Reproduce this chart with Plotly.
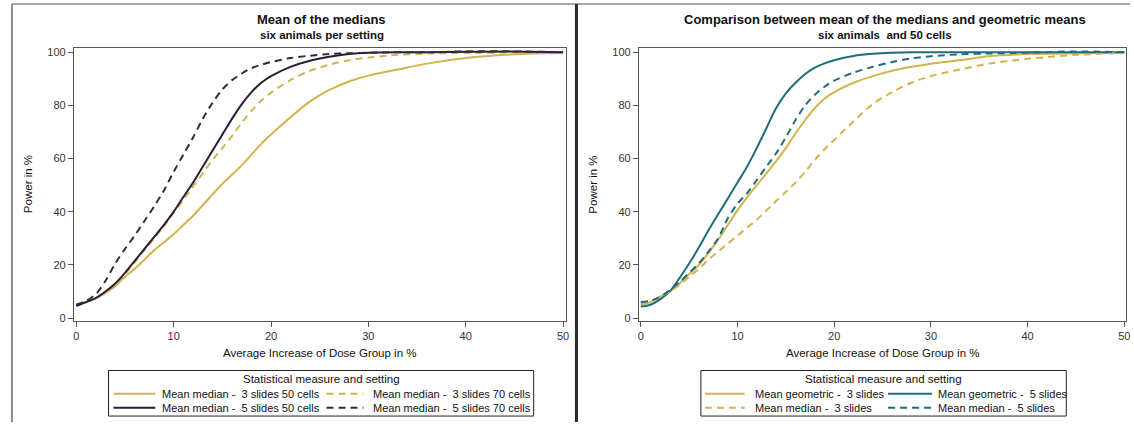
import plotly.graph_objects as go

# Increase of dose group (%) at which the power was evaluated
dose_increase = [0, 1, 2, 3, 4, 5, 6, 7, 8, 9, 10, 11, 12, 13, 14, 15, 16, 17, 18, 19, 20,
                 22, 24, 26, 28, 30, 33, 36, 40, 45, 50]

# Left panel: mean of the medians, six animals per setting (power in %)
med_3s_50c = [5, 6, 7.5, 9.5, 12, 15.5, 18.5, 22, 25.5, 28.5, 31.5, 35, 38.5, 42.5, 46.5, 50.5,
              54, 57.5, 61.5, 65.5, 69, 75.5, 81.5, 85.8, 89, 91.2, 93.5, 95.7, 97.8, 99.2, 99.8]
med_3s_70c = [5, 6, 7.5, 9.5, 12.5, 16.5, 21, 25.5, 30, 34.5, 39.5, 44.5, 49.5, 54.5, 59.5, 64,
              68.5, 73.5, 78, 81.8, 84.8, 89.5, 93, 95.3, 97, 98, 99, 99.5, 99.7, 99.9, 100]
med_5s_50c = [4.5, 6, 7.5, 10, 13, 17, 21.5, 26, 30.5, 35, 40, 45.5, 51, 57, 63, 69, 75, 80.5,
              85, 88.5, 91, 94.5, 96.8, 98.3, 99.3, 99.8, 100, 100, 100.2, 100.3, 100]
med_5s_70c = [5, 6.5, 9, 14, 20.5, 26, 31, 36.5, 42, 48, 55, 61.5, 68, 75, 81, 86, 89.5,
              92, 94, 95.3, 96.3, 97.8, 98.7, 99.3, 99.6, 99.8, 100, 100, 100.3, 100.3, 100]

# Right panel: geometric means vs mean of the medians, six animals and 50 cells
geo_3s = [5, 6, 8, 10, 13, 16.5, 20, 24.5, 29.5, 35, 40.5, 45.5, 50, 54.5, 59, 64, 69.5, 74.5,
          79, 82.5, 85, 88.5, 91, 93, 94.5, 95.7, 97, 98.5, 99.3, 99.6, 99.8]
geo_5s = [4.3, 5, 7, 10, 15, 20.5, 26.5, 33, 39, 45, 51, 57, 64, 71.5, 79, 84.5, 88.5, 91.8,
          94.2, 95.8, 97, 98.6, 99.4, 99.8, 100, 100, 100, 100, 100, 100, 100]
med_3s = [5.5, 6.5, 8, 10, 12.5, 15.5, 18.5, 22, 25, 28, 31, 34, 37, 40.5, 44, 47.5, 51, 55,
          59.5, 63.5, 67, 74, 80.5, 85, 88.5, 91, 93.5, 95.7, 97.5, 99, 99.7]
med_5s = [6, 6.5, 8, 10.5, 13.5, 17, 20.5, 25, 30, 37.5, 43, 47, 52, 57, 62, 68, 74.5, 80, 84,
          87, 89.3, 92.3, 94.5, 96.3, 97.7, 98.5, 99.2, 99.5, 99.8, 100.3, 100]

x_ticks = [0, 10, 20, 30, 40, 50]
y_ticks = [0, 20, 40, 60, 80, 100]

GOLD = "#D2B44E"
PURPLE = "#2C1C36"
DARK = "#2F2D3B"
TEAL = "#1F6D7B"
DASH = "7px,5px"
FONT = "Liberation Sans, Arial, sans-serif"

W, H = 1134, 425


def px(x):
    return x / W


def py(y):
    return 1 - y / H


left_series = [
    ("Mean median -  3 slides 50 cells", med_3s_50c, GOLD, "solid"),
    ("Mean median -  3 slides 70 cells", med_3s_70c, GOLD, DASH),
    ("Mean median -  5 slides 50 cells", med_5s_50c, PURPLE, "solid"),
    ("Mean median -  5 slides 70 cells", med_5s_70c, DARK, DASH),
]
right_series = [
    ("Mean geometric -  3 slides", geo_3s, GOLD, "solid"),
    ("Mean geometric -  5 slides", geo_5s, TEAL, "solid"),
    ("Mean median -  3 slides", med_3s, GOLD, DASH),
    ("Mean median -  5 slides", med_5s, TEAL, DASH),
]

fig = go.Figure()
for name, vals, col, dash in left_series:
    fig.add_trace(go.Scatter(x=dose_increase, y=vals, mode="lines", name=name,
                             line=dict(color=col, width=2, dash=dash, shape="spline", smoothing=0.9),
                             xaxis="x", yaxis="y", showlegend=False))
for name, vals, col, dash in right_series:
    fig.add_trace(go.Scatter(x=dose_increase, y=vals, mode="lines", name=name,
                             line=dict(color=col, width=2, dash=dash, shape="spline", smoothing=0.9),
                             xaxis="x2", yaxis="y2", showlegend=False))

axis_common = dict(showline=True, linecolor="#555555", linewidth=1, mirror=True,
                   ticks="outside", ticklen=5, tickcolor="#555555", showgrid=False,
                   zeroline=False, tickfont=dict(family=FONT, size=11, color="#333333"),
                   fixedrange=True)

y_dom = [py(322.7), py(47)]
fig.update_layout(
    width=W, height=H,
    margin=dict(l=0, r=0, t=0, b=0),
    paper_bgcolor="white", plot_bgcolor="white",
    xaxis=dict(domain=[px(73.2), px(567)], range=[-0.25, 50.25], tickvals=x_ticks, anchor="y", **axis_common),
    yaxis=dict(domain=y_dom, range=[-1.0, 101.75], tickvals=y_ticks, anchor="x", **axis_common),
    xaxis2=dict(domain=[px(640.7), px(1130.2)], range=[-0.2, 50.2], tickvals=x_ticks, anchor="y2", **axis_common),
    yaxis2=dict(domain=y_dom, range=[-1.0, 101.75], tickvals=y_ticks, anchor="x2", **axis_common),
)

annotations = []
shapes = []


def text(x, y, s, size=11, bold=False, angle=0, xanchor="center"):
    annotations.append(dict(x=px(x), y=py(y), xref="paper", yref="paper", text=f"<b>{s}</b>" if bold else s,
                            showarrow=False, xanchor=xanchor, yanchor="middle", textangle=angle,
                            font=dict(family=FONT, size=size, color="#111111")))


# Panel titles and axis titles
text(322, 19, "Mean of the medians", size=13, bold=True)
text(322, 34, "six animals per setting", size=11.5, bold=True)
text(888, 19, "Comparison between mean of the medians and geometric means", size=13, bold=True)
text(888, 34, "six animals  and 50 cells", size=11.5, bold=True)
for cx in (320, 885):
    text(cx, 355, "Average Increase of Dose Group in %", size=11.5)
text(27, 185, "Power in %", size=11.5, angle=-90)
text(595, 185, "Power in %", size=11.5, angle=-90)


def legend(box, title_x, entries):
    x0, x1, y0, y1 = box
    shapes.append(dict(type="rect", xref="paper", yref="paper", x0=px(x0), x1=px(x1), y0=py(y1), y1=py(y0),
                       line=dict(color="#222222", width=1), fillcolor="white"))
    text(title_x, 381.5, "Statistical measure and setting", size=11.5)
    for (lx0, lx1, tx, ry), (name, col, dash) in entries:
        shapes.append(dict(type="line", xref="paper", yref="paper", x0=px(lx0), x1=px(lx1),
                           y0=py(ry), y1=py(ry), line=dict(color=col, width=2, dash=dash)))
        text(tx, ry, name, size=11, xanchor="left")


legend((108, 535, 373, 419), 321.5, [
    ((113, 155, 160, 396.5), (left_series[0][0], GOLD, "solid")),
    ((327, 364, 372, 396.5), (left_series[1][0], GOLD, DASH)),
    ((113, 155, 160, 410.5), (left_series[2][0], PURPLE, "solid")),
    ((327, 364, 372, 410.5), (left_series[3][0], DARK, DASH)),
])
legend((703, 1070, 373, 419), 886.5, [
    ((707, 747, 755, 396.5), (right_series[0][0], GOLD, "solid")),
    ((891, 935, 939, 396.5), (right_series[1][0], TEAL, "solid")),
    ((707, 747, 755, 410.5), (right_series[2][0], GOLD, DASH)),
    ((891, 935, 939, 410.5), (right_series[3][0], TEAL, DASH)),
])

# Outer frame pieces and the divider between the two panels
shapes.append(dict(type="line", xref="paper", yref="paper", x0=px(11), x1=1, y0=py(3), y1=py(3),
                   line=dict(color="#8a8a8a", width=1.5)))
shapes.append(dict(type="line", xref="paper", yref="paper", x0=px(11), x1=px(11), y0=py(3), y1=0,
                   line=dict(color="#8a8a8a", width=2)))
shapes.append(dict(type="line", xref="paper", yref="paper", x0=px(578), x1=px(578), y0=py(3), y1=0,
                   line=dict(color="#2a2a2a", width=3)))

fig.update_layout(annotations=annotations, shapes=shapes)
fig.write_html("out.html")
